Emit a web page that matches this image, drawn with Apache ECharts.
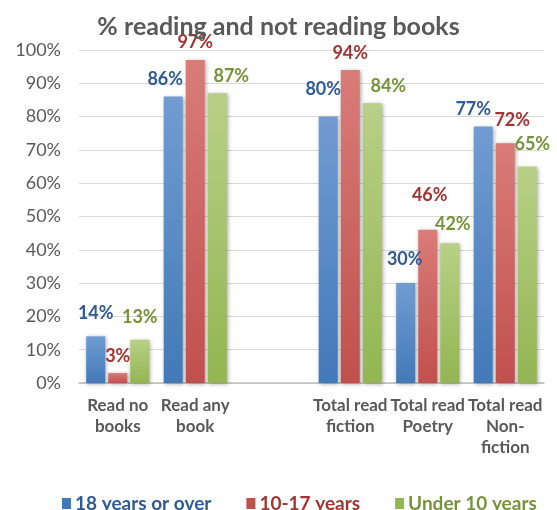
<!DOCTYPE html>
<html lang="en">
<head>
    <meta charset="utf-8">
    <title>ECharts</title>
    <script src="https://cdn.jsdelivr.net/npm/echarts@6/dist/echarts.min.js"></script>
</head>
<body style="margin:0">
<div id="main" style="width: 557px;height:510px;"></div>
<script type="text/javascript">
    // categories (empty slot = the gap in the original)
    var categories = ['Read no\nbooks', 'Read any\nbook', '', 'Total read\nfiction', 'Total read\nPoetry', 'Total read\nNon-\nfiction'];
    var seriesNames = ['18 years or over', '10-17 years', 'Under 10 years'];
    var adults = [14, 86, '-', 80, 30, 77];
    var teens = [3, 97, '-', 94, 46, 72];
    var kids = [13, 87, '-', 84, 42, 65];
    var yTicks = [0, 10, 20, 30, 40, 50, 60, 70, 80, 90, 100];

    // hand-moved labels in the original, [dx, dy] per category
    var nudges = [
        [[0, -6], [-8, 0], [0, 0], [-5, -10], [-1, -7], [-10, 0]],
        [[0, 0], [0, -1], [0, 0], [0, 0], [2, -18], [7, -6]],
        [[0, -6], [14, 0], [0, 0], [16, 0], [3, -2], [5, -5]]
    ];

    var font = 'Lato';
    var barColors = [['#719CD2', '#4279B8'], ['#DA7C78', '#C0504D'], ['#B8D087', '#93B552']];
    var labelColors = ['#2F5A94', '#A33431', '#76933C'];

    function grad(c) {
        return new echarts.graphic.LinearGradient(0, 0, 0, 1, [
            {offset: 0, color: c[0]},
            {offset: 1, color: c[1]}
        ]);
    }

    function makeSeries(i, values) {
        var data = values.map(function (v, j) {
            return {value: v, label: {offset: nudges[i][j]}};
        });
        return {
            name: seriesNames[i],
            type: 'bar',
            data: data,
            barWidth: 19,
            barGap: '16%',
            itemStyle: {
                color: grad(barColors[i]),
                shadowColor: 'rgba(0,0,0,0.35)',
                shadowBlur: 4,
                shadowOffsetX: 1,
                shadowOffsetY: 1
            },
            label: {
                show: true,
                position: 'top',
                distance: 8,
                formatter: '{c}%',
                color: labelColors[i],
                fontFamily: font,
                fontWeight: 'bold',
                fontSize: 18
            }
        };
    }

    var myChart = echarts.init(document.getElementById('main'));
    var option = {
        animation: false,
        title: {
            text: '% reading and not reading books',
            left: 'center',
            top: 9,
            textStyle: {
                color: '#595959',
                fontFamily: font,
                fontWeight: 'bold',
                fontSize: 25
            }
        },
        legend: {
            top: 489,
            left: 57,
            itemWidth: 9,
            itemHeight: 11,
            itemGap: 35,
            data: seriesNames.map(function (n, i) {
                return {name: n, icon: 'rect', itemStyle: {color: barColors[i][1]},
                    textStyle: {color: labelColors[i]}};
            }),
            textStyle: {
                fontFamily: font,
                fontWeight: 'bold',
                fontSize: 19,
                padding: [0, 0, 0, -1]
            }
        },
        grid: {
            left: 79,
            right: 13,
            top: 50,
            bottom: 127
        },
        xAxis: {
            type: 'category',
            data: categories,
            axisTick: {show: false},
            axisLine: {lineStyle: {color: '#BFBFBF', width: 1.5}},
            axisLabel: {
                interval: 0,
                margin: 12,
                color: '#595959',
                fontFamily: font,
                fontWeight: 'bold',
                fontSize: 17,
                lineHeight: 21
            }
        },
        yAxis: {
            type: 'value',
            min: yTicks[0],
            max: yTicks[yTicks.length - 1],
            interval: 10,
            axisLabel: {
                formatter: '{value}%',
                color: '#595959',
                fontFamily: font,
                fontSize: 18,
                margin: 18
            },
            splitLine: {lineStyle: {color: '#D9D9D9'}}
        },
        series: [makeSeries(0, adults), makeSeries(1, teens), makeSeries(2, kids)]
    };
    myChart.setOption(option);
</script>
</body>
</html>
